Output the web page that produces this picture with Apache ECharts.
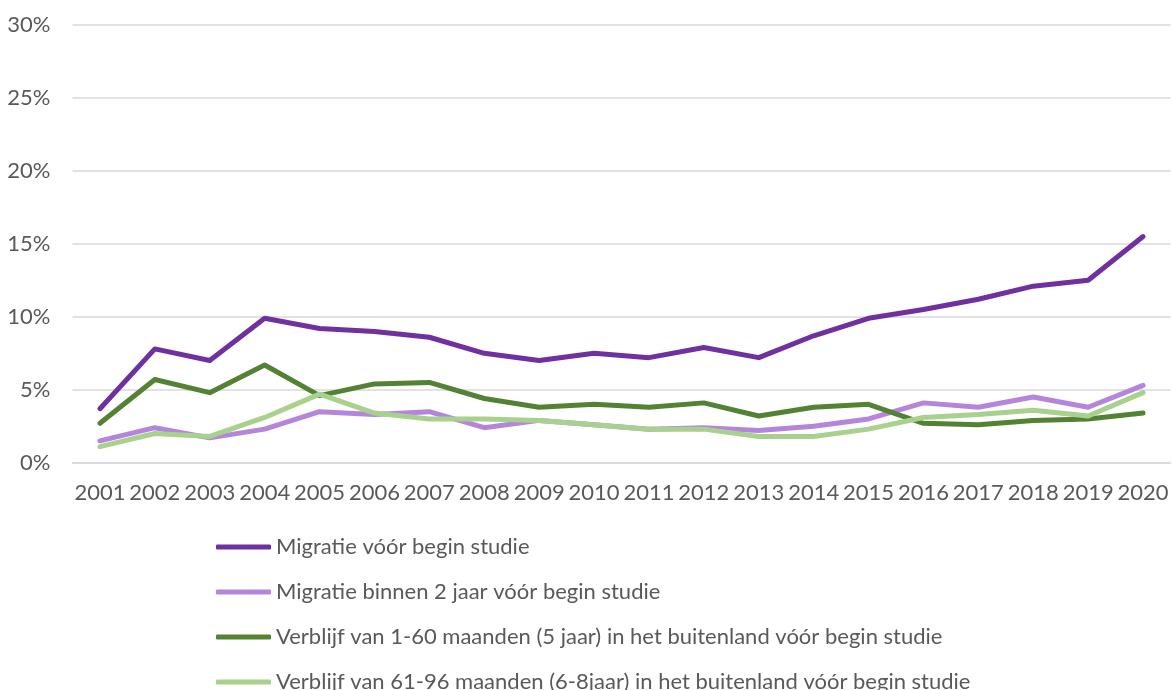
<!DOCTYPE html>
<html>
<head>
<meta charset="utf-8">
<script src="https://cdn.jsdelivr.net/npm/echarts@6/dist/echarts.min.js"></script>
<style>
html,body{margin:0;padding:0;background:#fff;}
#chart{width:1172px;height:690px;}
</style>
</head>
<body>
<div id="chart"></div>
<script>
const years = ['2001','2002','2003','2004','2005','2006','2007','2008','2009','2010','2011','2012','2013','2014','2015','2016','2017','2018','2019','2020'];
const seriesNames = [
  'Migratie vóór begin studie',
  'Migratie binnen 2 jaar vóór begin studie',
  'Verblijf van 1-60 maanden (5 jaar) in het buitenland vóór begin studie',
  'Verblijf van 61-96 maanden (6-8jaar) in het buitenland vóór begin studie'
];
const migratie = [3.7, 7.8, 7.0, 9.9, 9.2, 9.0, 8.6, 7.5, 7.0, 7.5, 7.2, 7.9, 7.2, 8.7, 9.9, 10.5, 11.2, 12.1, 12.5, 15.5];
const migratie2jaar = [1.5, 2.4, 1.7, 2.3, 3.5, 3.3, 3.5, 2.4, 2.9, 2.6, 2.3, 2.4, 2.2, 2.5, 3.0, 4.1, 3.8, 4.5, 3.8, 5.3];
const verblijf1_60 = [2.7, 5.7, 4.8, 6.7, 4.6, 5.4, 5.5, 4.4, 3.8, 4.0, 3.8, 4.1, 3.2, 3.8, 4.0, 2.7, 2.6, 2.9, 3.0, 3.4];
const verblijf61_96 = [1.1, 2.0, 1.8, 3.1, 4.7, 3.4, 3.0, 3.0, 2.9, 2.6, 2.3, 2.3, 1.8, 1.8, 2.3, 3.1, 3.3, 3.6, 3.2, 4.8];
const yTicks = [0, 5, 10, 15, 20, 25, 30];
const colors = ['#7030A0', '#B584DC', '#548235', '#A9D18E'];

const allData = [migratie, migratie2jaar, verblijf1_60, verblijf61_96];
const FONT = 'Lato';

const chart = echarts.init(document.getElementById('chart'), null, {renderer: 'canvas'});
chart.setOption({
  animation: false,
  backgroundColor: '#ffffff',
  textStyle: {fontFamily: FONT},
  grid: {left: 72.5, right: 1.5, top: 25, bottom: 227.3, containLabel: false},
  legend: {
    orient: 'vertical',
    left: 216,
    top: 534,
    height: 300,
    padding: 0,
    itemWidth: 55,
    itemHeight: 5,
    itemGap: 19,
    icon: 'roundRect',
    textStyle: {fontFamily: FONT, fontSize: 22, color: '#595959', lineHeight: 26},
    data: seriesNames
  },
  xAxis: {
    type: 'category',
    data: years,
    boundaryGap: true,
    axisLine: {show: true, lineStyle: {color: '#d9d9d9', width: 1.5}},
    axisTick: {show: false},
    axisLabel: {fontFamily: FONT, fontSize: 22, color: '#595959', margin: 19, interval: 0}
  },
  yAxis: {
    type: 'value',
    min: yTicks[0],
    max: yTicks[yTicks.length - 1],
    interval: 5,
    axisLine: {show: false},
    axisTick: {show: false},
    splitLine: {lineStyle: {color: '#d9d9d9', width: 1.5}},
    axisLabel: {fontFamily: FONT, fontSize: 22, color: '#595959', margin: 22, formatter: v => v + '%'}
  },
  series: allData.map((d, i) => ({
    name: seriesNames[i],
    type: 'line',
    data: d,
    symbol: 'none',
    smooth: false,
    lineStyle: {color: colors[i], width: 5, cap: 'round', join: 'round'},
    itemStyle: {color: colors[i]},
    emphasis: {disabled: true}
  }))
});
</script>
</body>
</html>
